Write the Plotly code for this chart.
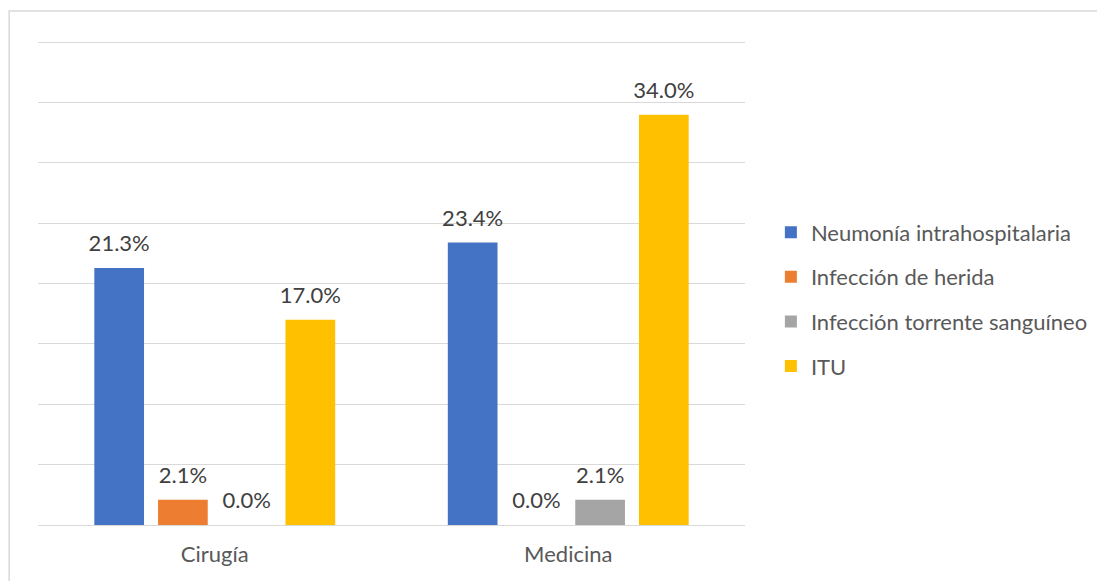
import plotly.graph_objects as go

categories = ["Cirugía", "Medicina"]
series_names = ["Neumonía intrahospitalaria", "Infección de herida",
                "Infección torrente sanguíneo", "ITU"]
neumonia = [21.3, 23.4]
herida = [2.1, 0.0]
torrente = [0.0, 2.1]
itu = [17.0, 34.0]
colors = ["#4472C4", "#ED7D31", "#A5A5A5", "#FFC000"]

FONT = "Lato"
FS = 22
fig = go.Figure()
for i, (name, vals) in enumerate(zip(series_names, [neumonia, herida, torrente, itu])):
    fig.add_trace(go.Bar(
        x=categories, y=vals, name=name, marker_color=colors[i],
        marker_line_width=0,
        texttemplate=("<span style='font-size:22px'>%{y:.1f}%</span>"
                      "<br><span style='color:rgba(255,255,255,0)'>.</span>"),
        textposition="outside", constraintext="none", cliponaxis=False,
        textfont=dict(family=FONT, size=9, color="#404040"),
        legendgroup=f"g{i}",
    ))

fig.update_layout(
    width=1097, height=573,
    margin=dict(l=30, r=357, t=33, b=56),
    paper_bgcolor="white", plot_bgcolor="white",
    barmode="group", bargap=0.279, bargroupgap=0.22,
    font=dict(family=FONT, size=FS, color="#595959"),
    showlegend=True,
    legend=dict(x=1.0366, xanchor="left", y=0.466, yanchor="middle",
                font=dict(family=FONT, size=FS, color="#595959"),
                tracegroupgap=13, itemwidth=30),
    xaxis=dict(showgrid=False, showline=False, ticks="", ticklabelstandoff=14,
               tickfont=dict(family=FONT, size=FS, color="#595959")),
    yaxis=dict(range=[0, 40.1], dtick=5, showticklabels=False, ticks="",
               showgrid=True, gridcolor="#D9D9D9", gridwidth=1.3,
               zeroline=True, zerolinecolor="#D9D9D9", zerolinewidth=1.3),
    shapes=[dict(type="rect", xref="paper", yref="paper",
                 x0=-0.0408, x1=1.51, y0=-0.134, y1=1.062,
                 line=dict(color="#D9D9D9", width=1.5), fillcolor="rgba(0,0,0,0)",
                 layer="below")],
)

fig.write_html("out.html")
